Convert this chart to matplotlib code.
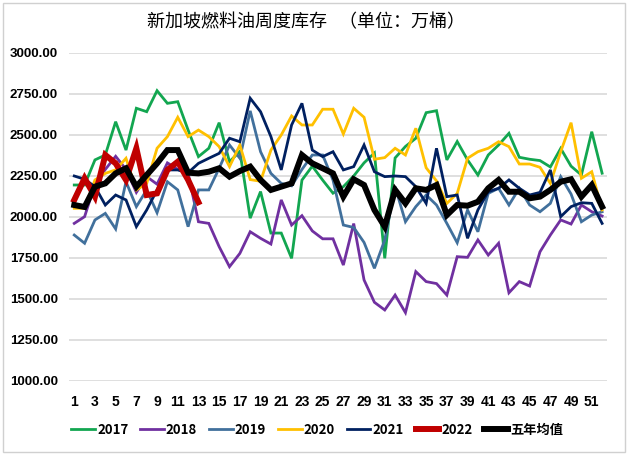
import matplotlib
matplotlib.use("Agg")
import matplotlib.pyplot as plt
from matplotlib.patches import Rectangle

weeks = list(range(1, 53))
tick_labels = [str(w) for w in range(1, 53, 2)]
yticks = [1000, 1250, 1500, 1750, 2000, 2250, 2500, 2750, 3000]

y2017 = [2195, 2195, 2348, 2378, 2581, 2408, 2663, 2642, 2770, 2693, 2703, 2530, 2368, 2419,
         2575, 2337, 2400, 1993, 2155, 1902, 1902, 1748, 2225, 2310, 2225, 2145, 2185, 2250,
         2330, 2390, 1748, 2360, 2430, 2480, 2636, 2648, 2348, 2460, 2348, 2256, 2378, 2439,
         2510, 2364, 2352, 2344, 2305, 2418, 2310, 2256, 2520, 2267]
y2018 = [1961, 2002, 2200, 2290, 2370, 2290, 2150, 2246, 2200, 2330, 2290, 2266, 1971, 1961,
         1819, 1697, 1778, 1910, 1870, 1835, 2104, 1951, 2008, 1915, 1867, 1867, 1707, 1960,
         1616, 1480, 1433, 1524, 1417, 1667, 1606, 1594, 1524, 1758, 1754, 1860, 1768, 1840,
         1538, 1606, 1579, 1788, 1890, 1982, 1957, 2073, 2032, 2006]
y2019 = [1890, 1840, 1982, 2022, 1927, 2215, 2063, 2165, 2026, 2215, 2165, 1941, 2165, 2165,
         2297, 2439, 2358, 2647, 2398, 2266, 2205, 2190, 2290, 2378, 2378, 2225, 1951, 1936,
         1845, 1687, 1860, 2185, 1971, 2063, 2134, 2073, 1961, 1843, 2043, 1910, 2144, 2175,
         2073, 2175, 2073, 2032, 2083, 2246, 2140, 1971, 2012, 2032]
y2020 = [2053, 2053, 2226, 2266, 2287, 2358, 2165, 2205, 2419, 2490, 2608, 2490, 2530, 2490,
         2429, 2307, 2439, 2228, 2218, 2408, 2500, 2616, 2561, 2561, 2657, 2657, 2506, 2663,
         2608, 2352, 2362, 2419, 2378, 2541, 2300, 2220, 2083, 2144, 2358, 2398, 2419, 2459,
         2429, 2323, 2323, 2303, 2205, 2398, 2575, 2236, 2276, 2043]
y2021 = [2250, 2230, 2185, 2073, 2134, 2104, 1941, 2043, 2165, 2287, 2287, 2270, 2327, 2358,
         2388, 2480, 2459, 2724, 2642, 2490, 2287, 2561, 2693, 2408, 2368, 2398, 2287, 2307,
         2439, 2276, 2246, 2250, 2246, 2185, 2083, 2419, 2124, 2134, 1870, 2043, 2154, 2175,
         2226, 2175, 2134, 2150, 2287, 2002, 2063, 2087, 2083, 1961]
y2022 = [2104, 2236, 2124, 2378, 2327, 2226, 2419, 2134, 2144, 2287, 2337, 2226, 2090]
avg5 = [2073, 2061, 2185, 2205, 2266, 2297, 2185, 2256, 2327, 2408, 2408, 2270, 2266, 2276,
        2297, 2246, 2280, 2307, 2226, 2165, 2185, 2205, 2378, 2327, 2297, 2266, 2124, 2230,
        2195, 2043, 1941, 2165, 2083, 2175, 2165, 2195, 2012, 2073, 2069, 2093, 2175, 2226,
        2154, 2154, 2114, 2124, 2165, 2215, 2230, 2124, 2195, 2063]

series = [
    ("2017", y2017, "#12A650", 2.0),
    ("2018", y2018, "#7030A0", 2.0),
    ("2019", y2019, "#41709C", 2.0),
    ("2020", y2020, "#FFC000", 2.0),
    ("2021", y2021, "#002060", 2.0),
    ("2022", y2022, "#C00000", 4.3),
    ("五年均值", avg5, "#000000", 4.3),
]

num_font = ["Liberation Sans Narrow", "Liberation Sans", "DejaVu Sans"]
cjk_font = ["Noto Sans CJK SC", "DejaVu Sans"]

fig = plt.figure(figsize=(6.28, 4.54), dpi=100)
fig.patches.append(Rectangle((0.004, 0.004), 0.992, 0.99, transform=fig.transFigure,
                             fill=False, edgecolor="#d0d0d0", linewidth=1.0))
ax = fig.add_axes([0.110, 0.1608, 0.857, 0.7225])

for name, vals, color, lw in series:
    ax.plot(weeks[:len(vals)], vals, color=color, linewidth=lw, label=name,
            solid_joinstyle="miter")

ax.set_xlim(0.5, 52.5)
ax.set_ylim(1000, 3000)
ax.set_yticks(yticks)
ax.set_yticklabels([f"{v:.2f}" for v in yticks], fontfamily=num_font, fontsize=9.5,
                   fontweight="bold")
ax.set_xticks(list(range(1, 53, 2)))
ax.set_xticklabels(tick_labels, fontfamily=num_font, fontsize=10, fontweight="bold")
ax.tick_params(length=0)
ax.tick_params(axis="x", pad=10)
ax.tick_params(axis="y", pad=8)
for s in ax.spines.values():
    s.set_visible(False)
ax.grid(axis="y", color="#d9d9d9", linewidth=1.2)
ax.set_axisbelow(True)

fig.text(0.487, 0.952, "新加坡燃料油周度库存   （单位：万桶）", ha="center", va="center",
         fontsize=13, fontfamily=cjk_font)

leg = fig.legend(loc="center", bbox_to_anchor=(0.505, 0.053), ncol=7, frameon=False,
                 handlelength=1.8, handletextpad=0.15, columnspacing=0.9,
                 prop={"family": ["Liberation Sans Narrow", "Noto Sans CJK SC", "DejaVu Sans"],
                       "size": 9.5, "weight": "bold"})

fig.savefig("out.png", dpi=100)
